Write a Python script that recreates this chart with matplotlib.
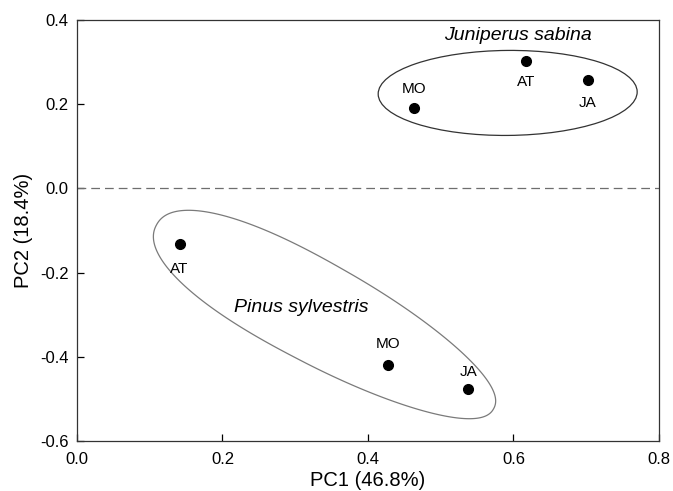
"""PCA score plot of PC1 vs PC2 for Juniperus sabina and Pinus sylvestris sites."""

import matplotlib

matplotlib.use("Agg")

import matplotlib.pyplot as plt
import numpy as np
from matplotlib.patches import Ellipse, Polygon
from matplotlib.transforms import ScaledTranslation

plt.rcParams["font.family"] = ["Liberation Sans", "DejaVu Sans"]

# scores
JUNIPERUS_SITES = ["MO", "AT", "JA"]
JUNIPERUS_PC1 = [0.463, 0.617, 0.702]
JUNIPERUS_PC2 = [0.190, 0.302, 0.257]

PINUS_SITES = ["AT", "MO", "JA"]
PINUS_PC1 = [0.141, 0.428, 0.538]
PINUS_PC2 = [-0.131, -0.419, -0.476]

X_TICKS = [0.0, 0.2, 0.4, 0.6, 0.8]
Y_TICKS = [-0.6, -0.4, -0.2, 0.0, 0.2, 0.4]

# label offset (points) per site: above (+) or below (-)
JUNIPERUS_OFFSETS = [14, -15, -16]
PINUS_OFFSETS = [-18, 15, 12]


def _anchored(ax, fig, center):
    # inches around a data point
    return fig.dpi_scale_trans + ScaledTranslation(center[0], center[1], ax.transData)


def _group_ellipse(ax, fig, center, width_px, height_px, angle, color, lw):
    dpi = fig.dpi
    ell = Ellipse((0, 0), width_px / dpi, height_px / dpi, angle=angle,
                  transform=_anchored(ax, fig, center), fill=False,
                  edgecolor=color, linewidth=lw)
    ax.add_patch(ell)


def _group_hull(ax, fig, center, a_px, b_px, power, skew, angle, color, lw):
    # hand-drawn looking hull: rounded-off superellipse, a bit fatter on the left
    t = np.linspace(0, 2 * np.pi, 240)
    c, s = np.cos(t), np.sin(t)
    x = a_px * np.sign(c) * np.abs(c) ** (2 / power)
    y = b_px * np.sign(s) * np.abs(s) ** (2 / power) * (1 - skew * c)
    th = np.deg2rad(angle)
    xr = x * np.cos(th) - y * np.sin(th)
    yr = x * np.sin(th) + y * np.cos(th)
    pts = np.column_stack([xr, yr]) / fig.dpi
    poly = Polygon(pts, closed=True, fill=False, edgecolor=color, linewidth=lw,
                   transform=_anchored(ax, fig, center))
    ax.add_patch(poly)


def main() -> None:
    fig = plt.figure(figsize=(6.73, 4.91), dpi=100)
    ax = fig.add_axes([0.1144, 0.102, 0.8648, 0.857])

    ax.axhline(0.0, color="#6e6e6e", linewidth=0.9, linestyle=(0, (7, 4)))

    ax.plot(JUNIPERUS_PC1, JUNIPERUS_PC2, "o", color="black", markersize=7)
    ax.plot(PINUS_PC1, PINUS_PC2, "o", color="black", markersize=7)

    for name, x, y, off in zip(JUNIPERUS_SITES, JUNIPERUS_PC1, JUNIPERUS_PC2, JUNIPERUS_OFFSETS):
        ax.annotate(name, (x, y), xytext=(0, off), textcoords="offset points",
                    ha="center", va="center", fontsize=11)
    for name, x, y, off in zip(PINUS_SITES, PINUS_PC1, PINUS_PC2, PINUS_OFFSETS):
        ax.annotate(name, (x, y), xytext=(0, off), textcoords="offset points",
                    ha="center", va="center", fontsize=11)

    _group_ellipse(ax, fig, (0.592, 0.227), 259, 85, 0.5, "#333333", 0.9)
    _group_hull(ax, fig, (0.341, -0.305), 192, 50, 2.2, 0.12, -28.6, "#7a7a7a", 0.9)

    ax.text(0.606, 0.363, "Juniperus sabina", style="italic", fontsize=14,
            ha="center", va="center")
    ax.text(0.308, -0.282, "Pinus sylvestris", style="italic", fontsize=14,
            ha="center", va="center")

    ax.set_xlim(0.0, 0.8)
    ax.set_ylim(-0.6, 0.4)
    ax.set_xticks(X_TICKS)
    ax.set_yticks(Y_TICKS)
    ax.set_xticklabels([f"{v:.1f}" for v in X_TICKS])
    ax.set_yticklabels([f"{v:.1f}" for v in Y_TICKS])
    ax.tick_params(direction="in", length=5, width=0.9, labelsize=12,
                   top=False, right=False)
    ax.tick_params(axis="x", pad=8)
    ax.tick_params(axis="y", pad=6)
    for spine in ax.spines.values():
        spine.set_linewidth(0.9)
        spine.set_color("#333333")

    ax.set_xlabel("PC1 (46.8%)", fontsize=14.5, labelpad=3)
    ax.set_ylabel("PC2 (18.4%)", fontsize=14.5, labelpad=5)

    fig.savefig("out.png", dpi=100)
    plt.close(fig)


if __name__ == "__main__":
    main()
